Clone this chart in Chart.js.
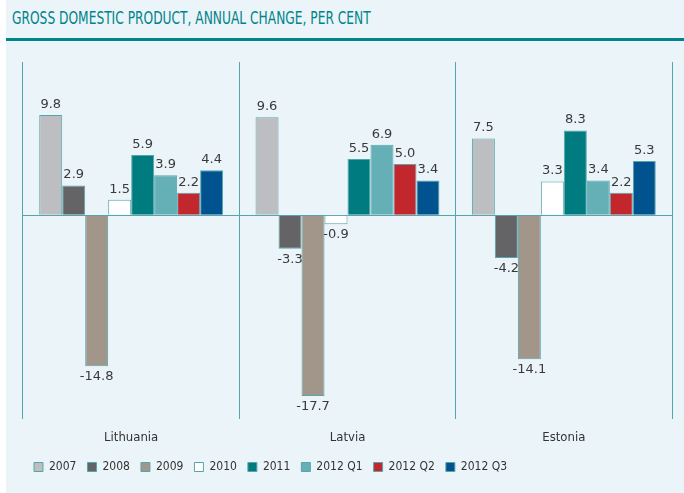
<!DOCTYPE html>
<html>
<head>
<meta charset="utf-8">
<script src="https://cdn.jsdelivr.net/npm/chart.js@4"></script>
<style>
  html, body { margin: 0; padding: 0; background: #ffffff; }
  #panel { position: absolute; left: 6px; top: 0; width: 678px; height: 493px; background: #ebf4f8; }
  #title { position: absolute; left: 6px; top: 8px; font-family: "DejaVu Sans Condensed", "Open Sans", sans-serif;
           font-size: 17px; color: #00838a; white-space: nowrap; transform: scaleX(0.8); transform-origin: 0 0; }
  #rule { position: absolute; left: 0; top: 38px; width: 678px; height: 3px; background: #00838a; }
  #wrap { position: absolute; left: 0; top: 44px; width: 678px; height: 449px; }
</style>
</head>
<body>
<div id="panel">
  <div id="title">GROSS DOMESTIC PRODUCT, ANNUAL CHANGE, PER CENT</div>
  <div id="rule"></div>
  <div id="wrap"><canvas id="barGraph"></canvas></div>
</div>
<script>
  const countries = ['Lithuania', 'Latvia', 'Estonia'];
  const periods = ['2007', '2008', '2009', '2010', '2011', '2012 Q1', '2012 Q2', '2012 Q3'];
  // one array per period, values for Lithuania, Latvia, Estonia
  const gdp2007 = [9.8, 9.6, 7.5];
  const gdp2008 = [2.9, -3.3, -4.2];
  const gdp2009 = [-14.8, -17.7, -14.1];
  const gdp2010 = [1.5, -0.9, 3.3];
  const gdp2011 = [5.9, 5.5, 8.3];
  const gdp2012q1 = [3.9, 6.9, 3.4];
  const gdp2012q2 = [2.2, 5.0, 2.2];
  const gdp2012q3 = [4.4, 3.4, 5.3];

  const series = [gdp2007, gdp2008, gdp2009, gdp2010, gdp2011, gdp2012q1, gdp2012q2, gdp2012q3];
  const colours = ['#bdbec2', '#646466', '#a2968b', '#ffffff', '#007b7f', '#65afb7', '#c1272d', '#00538f'];
  const teal = '#55a6ac';
  const fontName = '"DejaVu Sans Condensed", "Open Sans", sans-serif';

  // value labels above / below each bar
  const barLabels = {
    id: 'barLabels',
    afterDatasetsDraw(chart) {
      const ctx = chart.ctx;
      ctx.save();
      ctx.font = '13px "DejaVu Sans", sans-serif';
      ctx.fillStyle = '#3a3a3a';
      ctx.textAlign = 'center';
      chart.data.datasets.forEach((ds, i) => {
        chart.getDatasetMeta(i).data.forEach((bar, j) => {
          const v = ds.data[j];
          if (v >= 0) {
            ctx.textBaseline = 'bottom';
            ctx.fillText(v.toFixed(1), bar.x, bar.y - 4);
          } else {
            ctx.textBaseline = 'top';
            ctx.fillText(v.toFixed(1), bar.x, bar.y + 4);
          }
        });
      });
      ctx.restore();
    }
  };

  const barGraph = document.getElementById('barGraph');
  new Chart(barGraph, {
    type: 'bar',
    data: {
      labels: countries,
      datasets: periods.map((p, i) => ({
        label: p,
        data: series[i],
        backgroundColor: colours[i],
        borderColor: teal,
        borderWidth: 1,
        barPercentage: 1,
        categoryPercentage: 0.85
      }))
    },
    options: {
      responsive: true,
      maintainAspectRatio: false,
      animation: false,
      layout: { padding: { top: 18, left: 17, right: 12, bottom: 10 } },
      plugins: {
        tooltip: { enabled: false },
        legend: {
          position: 'bottom',
          align: 'start',
          labels: {
            boxWidth: 9,
            boxHeight: 9,
            padding: 11,
            color: '#333333',
            font: { family: fontName, size: 12 }
          }
        }
      },
      scales: {
        x: {
          grid: { offset: true, color: teal, drawTicks: false },
          border: { display: false },
          ticks: { color: '#333333', padding: 10, font: { family: fontName, size: 13 } },
          afterFit(scale) { scale.height -= 5; }
        },
        y: {
          min: -20,
          max: 15,
          ticks: { display: false, stepSize: 5 },
          border: { display: false },
          grid: {
            drawTicks: false,
            color: (c) => c.tick && c.tick.value === 0 ? teal : 'rgba(0,0,0,0)'
          }
        }
      }
    },
    plugins: [barLabels]
  });
</script>
</body>
</html>
